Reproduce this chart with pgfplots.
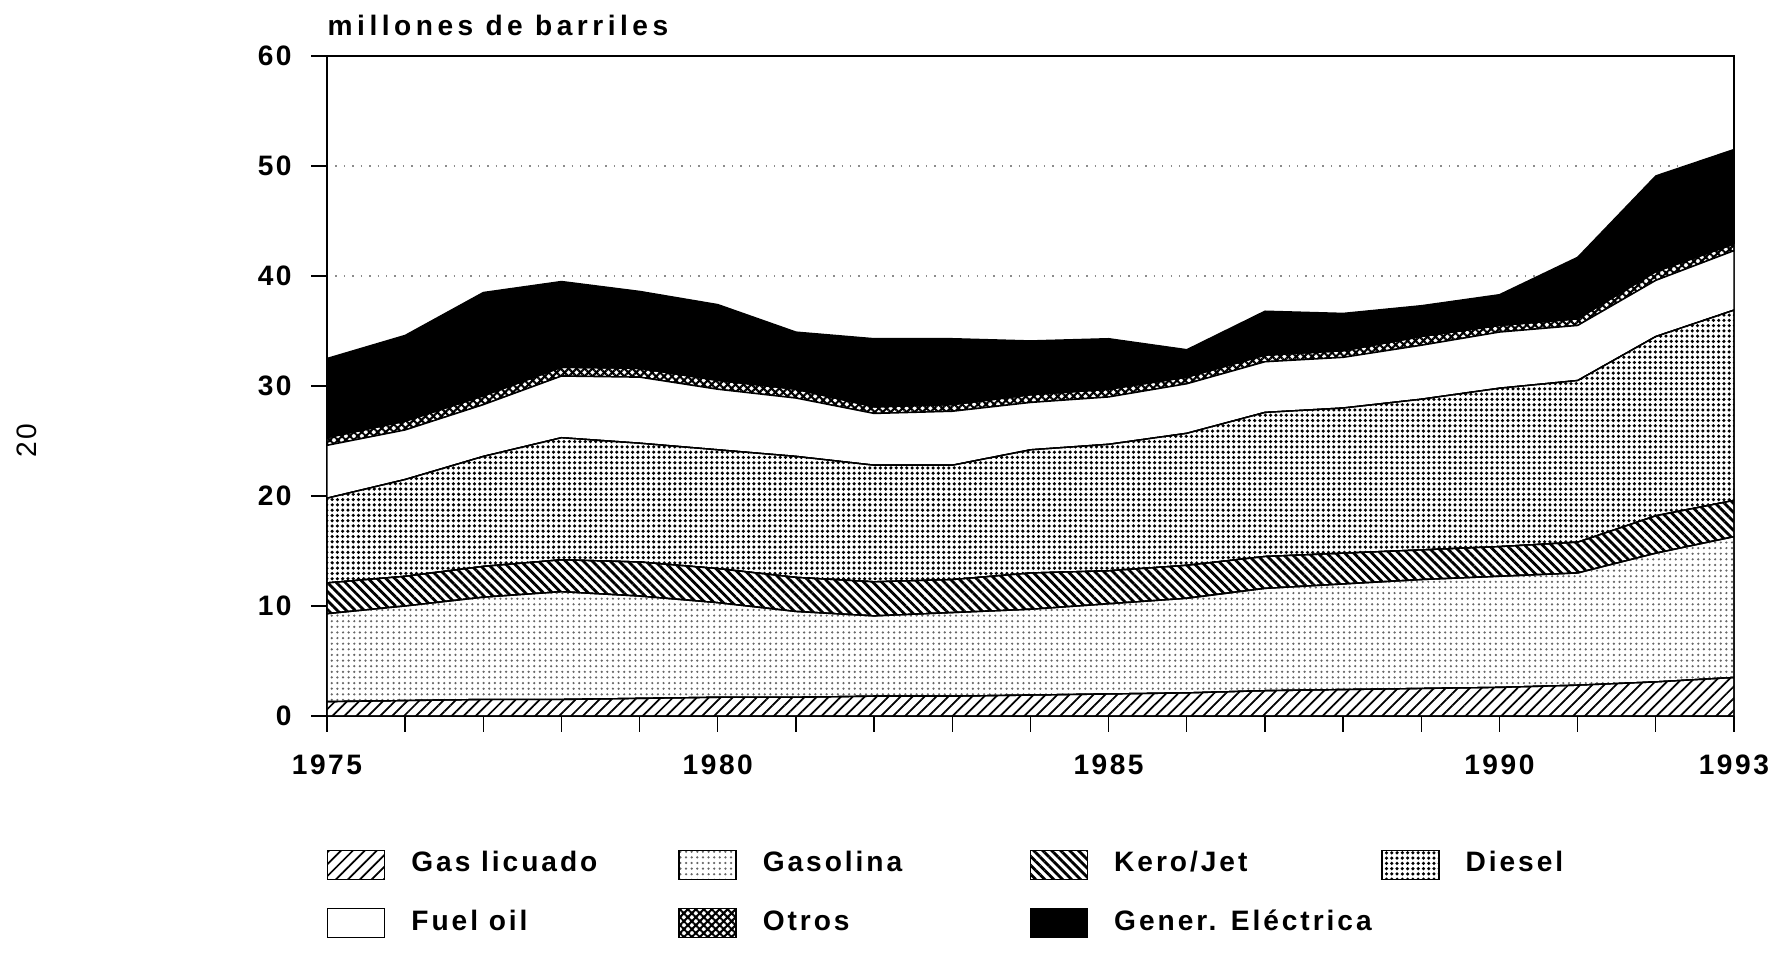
\documentclass[border=0pt]{standalone}
\usepackage{pgfplots}
\pgfplotsset{compat=1.18}
\usepackage{pgfplotstable}
\usetikzlibrary{patterns,patterns.meta}
\usepackage{fontspec}
\setmainfont{Liberation Sans}
\newfontfamily\tickfont{Liberation Sans}[LetterSpace=9]
\newfontfamily\titlefont{Liberation Sans}[LetterSpace=16]
\newfontfamily\legfont{Liberation Sans}[LetterSpace=10.5]
\newcommand{\leg}[1]{\makebox[2.93cm][l]{\hspace{0.26cm}#1}}

% increments of each stacked layer (millones de barriles)
\pgfplotstableread{
year gas gasol kero diesel fuel otros elec
1975 1.3 8.0 2.8 7.7 4.8 0.7 7.2
1976 1.4 8.6 2.7 8.8 4.5 0.8 7.8
1977 1.5 9.3 2.8 10.0 4.7 0.8 9.4
1978 1.5 9.8 2.9 11.1 5.6 0.8 7.8
1979 1.6 9.3 3.1 10.8 6.0 0.8 7.0
1980 1.7 8.6 3.1 10.8 5.5 0.8 6.9
1981 1.7 7.8 3.1 11.0 5.3 0.8 5.2
1982 1.8 7.3 3.1 10.6 4.7 0.6 6.2
1983 1.8 7.6 3.0 10.4 4.9 0.6 6.0
1984 1.9 7.8 3.3 11.2 4.3 0.7 4.9
1985 2.0 8.2 3.0 11.5 4.3 0.7 4.6
1986 2.1 8.6 3.0 12.0 4.5 0.6 2.5
1987 2.3 9.3 2.9 13.1 4.6 0.6 4.0
1988 2.4 9.6 2.8 13.2 4.6 0.6 3.4
1989 2.5 9.9 2.7 13.7 4.9 0.8 2.8
1990 2.6 10.1 2.7 14.4 5.1 0.6 2.8
1991 2.8 10.2 2.8 14.7 5.0 0.6 5.6
1992 3.1 11.7 3.4 16.3 5.1 0.8 8.7
1993 3.5 12.8 3.3 17.3 5.4 0.6 8.6
}\datatable

\begin{document}
\begin{tikzpicture}
\useasboundingbox (0,0) rectangle (17.81cm,9.53cm);
\node[anchor=base west, inner sep=0pt, font=\titlefont\bfseries\fontsize{8}{10}\selectfont] at (3.27cm,9.17cm) {millones de barriles};
\node[rotate=90, inner sep=0pt, font=\tickfont\fontsize{8}{10}\selectfont] at (0.27cm,5.12cm) {20};
\begin{axis}[
  at={(3.27cm,2.37cm)}, anchor=south west,
  width=14.07cm, height=6.60cm, scale only axis,
  xmin=1975, xmax=1993, ymin=0, ymax=60,
  stack plots=y,
  xtick={1975,...,1993},
  xticklabels={1975,,,,,1980,,,,,1985,,,,,1990,,,1993},
  ytick={0,10,...,60},
  tick align=outside, tick pos=left,
  major tick length=0.16cm,
  tick style={black, thin},
  axis line style={thin},
  ymajorgrids, grid style={black!45, dotted},
  /pgf/number format/assume math mode=true,
  ticklabel style={font=\tickfont\bfseries\fontsize{8}{10}\selectfont},
  xticklabel style={yshift=-0.1cm},
  yticklabel style={xshift=-0.07cm},
  legend columns=4,
  legend cell align=left,
  legend style={draw=none, fill=none, inner sep=0pt, outer sep=0pt,
    at={(0,-0.2023)}, anchor=north west,
    font=\legfont\bfseries\fontsize{8}{10}\selectfont,
    column sep=0pt, row sep=0.28cm,
    nodes={inner sep=0pt, text height=6pt, text depth=2pt}},
  legend image code/.code={\draw[#1] (0cm,-0.145cm) rectangle (0.57cm,0.145cm);},
  every axis plot/.append style={no marks, sharp plot, draw=black, thin},
]
\addplot[fill=white, postaction={pattern={Lines[angle=45,distance=2.4pt,line width=0.5pt]}}]
  table[x=year,y=gas]{\datatable} \closedcycle;
\addlegendentry{\leg{Gas licuado}}
\addplot[fill=white, postaction={pattern={Dots[distance=1.6pt,radius=0.35pt]}, pattern color=black!60}]
  table[x=year,y=gasol]{\datatable} \closedcycle;
\addlegendentry{\leg{Gasolina}}
\addplot[fill=white, postaction={pattern={Lines[angle=-45,distance=1.8pt,line width=0.8pt]}}]
  table[x=year,y=kero]{\datatable} \closedcycle;
\addlegendentry{\leg{Kero/Jet}}
\addplot[fill=white, postaction={pattern={Dots[distance=1.5pt,radius=0.5pt]}}]
  table[x=year,y=diesel]{\datatable} \closedcycle;
\addlegendentry{\leg{Diesel}}
\addplot[fill=white]
  table[x=year,y=fuel]{\datatable} \closedcycle;
\addlegendentry{\leg{Fuel oil}}
\addplot[fill=white, postaction={pattern={Hatch[angle=45,distance=1.6pt,line width=0.6pt]}}]
  table[x=year,y=otros]{\datatable} \closedcycle;
\addlegendentry{\leg{Otros}}
\addplot[fill=black]
  table[x=year,y=elec]{\datatable} \closedcycle;
\addlegendentry{\leg{Gener. Eléctrica}}
\end{axis}
\end{tikzpicture}
\end{document}
